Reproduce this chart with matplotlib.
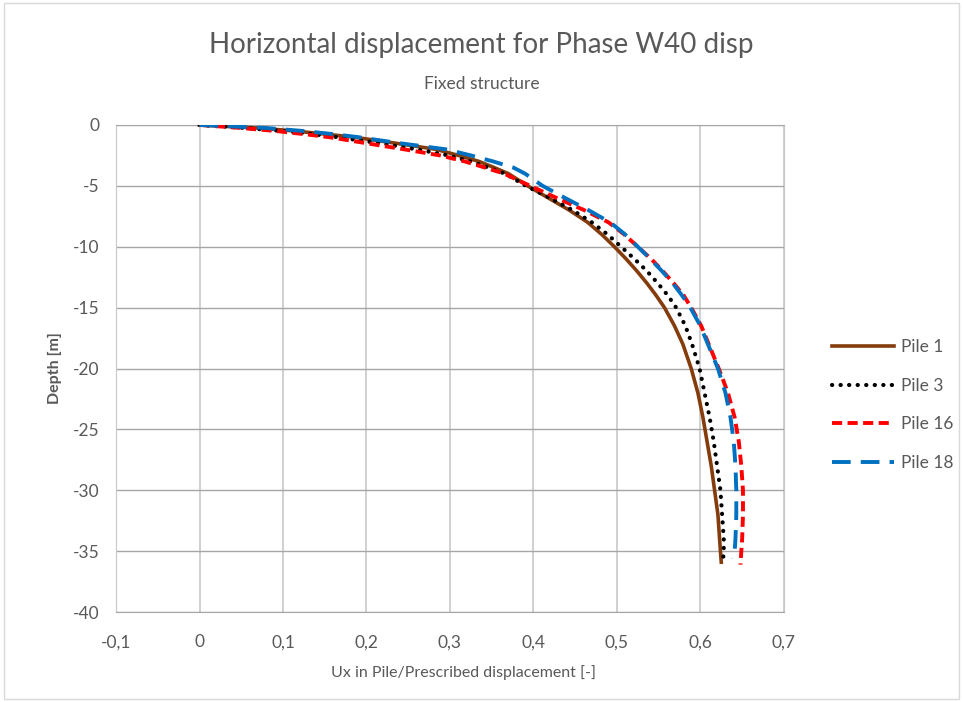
import numpy as np
import matplotlib

matplotlib.use("Agg")
import matplotlib.pyplot as plt
from matplotlib.ticker import FuncFormatter, MultipleLocator
from matplotlib.patches import Rectangle

# Depth [m] along the pile, shared by all four series
depth = [0, -0.25, -0.5, -0.75, -1, -1.5, -2, -2.5, -3, -3.5, -4, -5, -6, -7,
         -8, -9, -10, -11, -12, -13, -14, -15, -16.5, -18, -20, -22, -24, -26,
         -28, -30, -32, -34, -35]

pile1 = [0, 0.07, 0.115, 0.15, 0.185, 0.235, 0.283, 0.31, 0.335, 0.353, 0.37,
         0.393, 0.418, 0.443, 0.465, 0.482, 0.497, 0.511, 0.524, 0.536, 0.547,
         0.557, 0.569, 0.579, 0.589, 0.597, 0.603, 0.608, 0.613, 0.617, 0.621,
         0.623, 0.624]
pile3 = [0, 0.055, 0.1, 0.135, 0.165, 0.215, 0.26, 0.298, 0.325, 0.346, 0.366,
         0.391, 0.42, 0.447, 0.47, 0.489, 0.505, 0.521, 0.536, 0.549, 0.561,
         0.571, 0.582, 0.590, 0.599, 0.605, 0.611, 0.616, 0.620, 0.624, 0.626,
         0.628, 0.628]
pile16 = [0, 0.05, 0.092, 0.125, 0.155, 0.2, 0.245, 0.288, 0.318, 0.342, 0.365,
          0.396, 0.428, 0.461, 0.49, 0.509, 0.525, 0.541, 0.555, 0.568, 0.58,
          0.589, 0.601, 0.61, 0.622, 0.633, 0.641, 0.646, 0.649, 0.651, 0.651,
          0.65, 0.649]
pile18 = [0, 0.08, 0.125, 0.16, 0.19, 0.24, 0.295, 0.325, 0.352, 0.376, 0.39,
          0.411, 0.438, 0.466, 0.492, 0.51, 0.525, 0.54, 0.554, 0.567, 0.578,
          0.588, 0.6, 0.609, 0.621, 0.63, 0.636, 0.64, 0.642, 0.643, 0.643,
          0.642, 0.641]

# pile toe (last point of each series)
toe_depth = {"Pile 1": -35.9, "Pile 3": -35.8, "Pile 16": -36.1, "Pile 18": -35.6}
toe_ux = {"Pile 1": 0.625, "Pile 3": 0.627, "Pile 16": 0.648, "Pile 18": 0.638}

plt.rcParams["font.family"] = ["Lato", "DejaVu Sans"]
TXT = "#595959"

fig = plt.figure(figsize=(9.63, 7.02), dpi=100)
fig.patch.set_facecolor("white")
fig.patches.append(Rectangle((0.004, 0.004), 0.992, 0.992, transform=fig.transFigure,
                             fill=False, edgecolor="#D9D9D9", linewidth=1))

ax = fig.add_axes([0.1205, 0.128, 0.6935, 0.694])

styles = {
    "Pile 1": dict(color="#843C0C", linewidth=2.6, linestyle="-"),
    "Pile 3": dict(color="black", linewidth=3.0, linestyle=(0, (0.05, 2.0)),
                   dash_capstyle="round"),
    "Pile 16": dict(color="#FF0000", linewidth=2.8, linestyle=(0, (2.6, 1.4))),
    "Pile 18": dict(color="#0070C0", linewidth=2.8, linestyle=(0, (4.8, 2.6))),
}
series = {"Pile 1": pile1, "Pile 3": pile3, "Pile 16": pile16, "Pile 18": pile18}

for name, ux in series.items():
    xs = list(ux) + [toe_ux[name]]
    ys = list(depth) + [toe_depth[name]]
    ax.plot(xs, ys, label=name, zorder=3, solid_joinstyle="round", **styles[name])

ax.set_xlim(-0.1, 0.7)
ax.set_ylim(-40, 0)
ax.xaxis.set_major_locator(MultipleLocator(0.1))
ax.yaxis.set_major_locator(MultipleLocator(5))

def comma(v, pos):
    s = f"{v:.1f}".rstrip("0").rstrip(".")
    if s in ("-0", ""):
        s = "0"
    return s.replace(".", ",")

ax.xaxis.set_major_formatter(FuncFormatter(comma))
ax.yaxis.set_major_formatter(FuncFormatter(lambda v, p: f"{v:.0f}"))

ax.grid(True, axis="x", color="#C8C8C8", linewidth=1.2)
ax.grid(True, axis="y", color="#A6A6A6", linewidth=1.0)
ax.set_axisbelow(True)
for side in ("left", "right"):
    ax.spines[side].set_color("#C8C8C8")
for side in ("top", "bottom"):
    ax.spines[side].set_color("#A6A6A6")
ax.tick_params(length=0, labelsize=12.5, colors=TXT)
ax.tick_params(axis="x", pad=16)
ax.tick_params(axis="y", pad=12)

ax.set_xlabel("Ux in Pile/Prescribed displacement [-]", fontsize=11.5, color=TXT)
ax.xaxis.set_label_coords(0.521, -0.109)
ax.set_ylabel("Depth [m]", fontsize=11.5, color=TXT, labelpad=8, fontweight="bold")

fig.text(0.5, 0.936, "Horizontal displacement for Phase W40 disp", ha="center",
         va="center", fontsize=20, color=TXT)
fig.text(0.5, 0.88, "Fixed structure", ha="center", va="center", fontsize=12.5, color=TXT)

ax.legend(loc="center left", bbox_to_anchor=(1.048, 0.425), frameon=False,
          fontsize=12.5, labelcolor=TXT, handlelength=3.6, handletextpad=0.4,
          labelspacing=1.3)

fig.savefig("out.png", dpi=100, facecolor="white")
